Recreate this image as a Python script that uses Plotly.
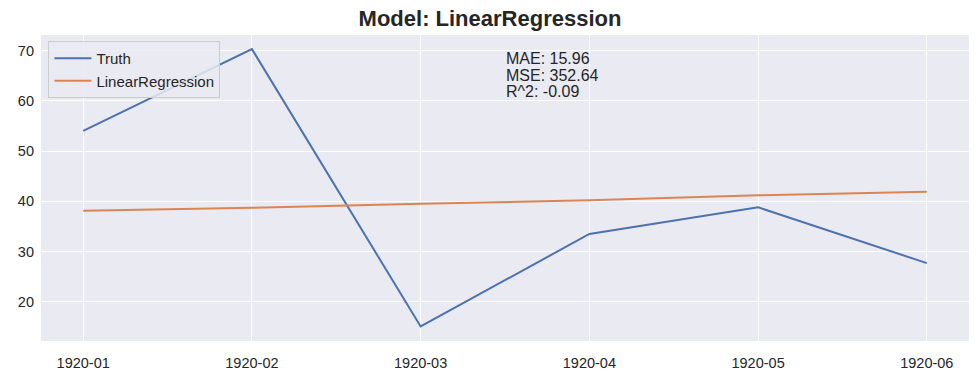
import plotly.graph_objects as go

months = ["1920-01", "1920-02", "1920-03", "1920-04", "1920-05", "1920-06"]
truth = [54.0, 70.3, 15.1, 33.5, 38.8, 27.7]
linreg = [38.1, 38.7, 39.5, 40.2, 41.2, 41.9]
metrics_lines = ["MAE: 15.96", "MSE: 352.64", "R^2: -0.09"]
title_text = "Model: LinearRegression"

FONT = "Liberation Sans, Arial, sans-serif"
W, H = 980, 379
L, R, T, B = 41, 11, 35, 38
ph = H - T - B

fig = go.Figure()
fig.add_trace(go.Scatter(x=list(range(len(months))), y=truth, mode="lines", name="Truth",
                         line=dict(color="#4C72B0", width=2)))
fig.add_trace(go.Scatter(x=list(range(len(months))), y=linreg, mode="lines", name="LinearRegression",
                         line=dict(color="#DD8452", width=2)))

for i, txt in enumerate(metrics_lines):
    ypix = 58.5 + i * 16.5
    fig.add_annotation(x=0.5, y=1 - (ypix - T) / ph, xref="paper", yref="paper",
                       xanchor="left", yanchor="middle", text=txt, showarrow=False,
                       borderpad=0,
                       font=dict(family=FONT, size=16, color="#262626"))

fig.update_layout(
    width=W, height=H,
    margin=dict(l=L, r=R, t=T, b=B),
    paper_bgcolor="white", plot_bgcolor="#EAEAF2",
    title=dict(text="<b>" + title_text + "</b>", x=0.5, xanchor="center",
               y=1 - 18 / H, yanchor="middle",
               font=dict(family=FONT, size=22, color="#262626")),
    font=dict(family=FONT, size=14.5, color="#262626"),
    legend=dict(x=0.008, y=0.98, xanchor="left", yanchor="top",
                bgcolor="rgba(234,234,242,0.85)", bordercolor="#CCCCCC", borderwidth=1,
                itemwidth=37,
                font=dict(family=FONT, size=15, color="#262626"), tracegroupgap=0),
    showlegend=True,
)
fig.update_xaxes(tickmode="array", tickvals=list(range(len(months))), ticktext=months,
                 range=[-0.25, 5.25], showgrid=True, gridcolor="white", gridwidth=1.3,
                 zeroline=False, showline=False, ticks="", ticklabelstandoff=11,
                 automargin=False)
fig.update_yaxes(range=[12.2, 73.1], tickvals=[20, 30, 40, 50, 60, 70], showgrid=True,
                 gridcolor="white", gridwidth=1.3, zeroline=False, showline=False, ticks="",
                 ticklabelstandoff=6, automargin=False)

fig.write_html("out.html", config={"displayModeBar": False},
               post_script="document.body.style.margin='0';document.body.style.overflow='hidden';")
